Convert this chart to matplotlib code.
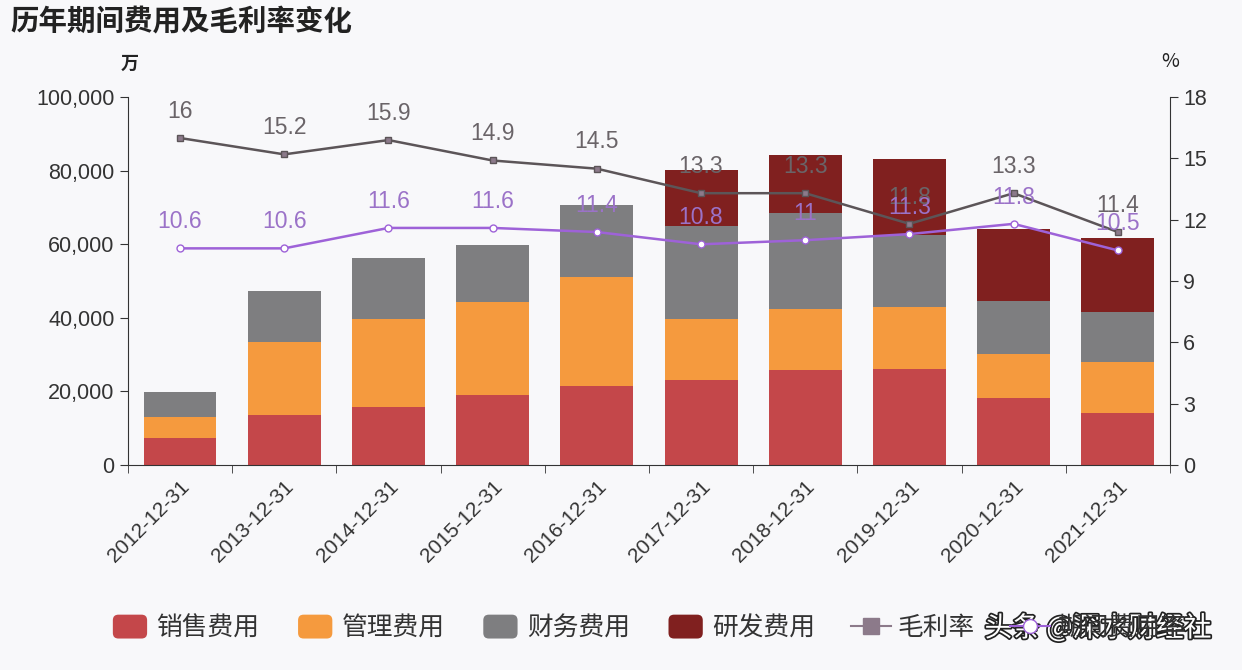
import matplotlib
matplotlib.use("Agg")
import matplotlib.pyplot as plt
import matplotlib.patheffects as pe
from matplotlib.patches import Patch, FancyBboxPatch
from matplotlib.lines import Line2D
from matplotlib.legend_handler import HandlerPatch
import numpy as np

plt.rcParams['font.family'] = ['Noto Sans CJK SC', 'DejaVu Sans']

categories = ["2012-12-31", "2013-12-31", "2014-12-31", "2015-12-31", "2016-12-31",
              "2017-12-31", "2018-12-31", "2019-12-31", "2020-12-31", "2021-12-31"]
sales = [7400, 13700, 15800, 19100, 21600, 23200, 25700, 26200, 18300, 14200]
admin = [5700, 19600, 23800, 25200, 29500, 16400, 16600, 16700, 12000, 13900]
finance = [6800, 14000, 16700, 15500, 19700, 25400, 26300, 19700, 14200, 13400]
rnd = [0, 0, 0, 0, 0, 15100, 15600, 20700, 19700, 20200]
gross_margin = [16, 15.2, 15.9, 14.9, 14.5, 13.3, 13.3, 11.8, 13.3, 11.4]
expense_rate = [10.6, 10.6, 11.6, 11.6, 11.4, 10.8, 11, 11.3, 11.8, 10.5]
series_names = ["销售费用", "管理费用", "财务费用", "研发费用", "毛利率", "期间费用率"]

c_sales = "#C4474A"
c_admin = "#F59A3E"
c_fin = "#7E7E80"
c_rnd = "#80201F"
c_gm = "#5C5558"
c_er = "#9E62D8"
bg = "#F8F8FA"


class RoundBoxHandler(HandlerPatch):
    def create_artists(self, legend, orig_handle, xdescent, ydescent, width, height, fontsize, trans):
        h = height * 1.25
        p = FancyBboxPatch((-xdescent + 2, -ydescent - (h - height) / 2 + 1), width - 4, h - 2,
                           boxstyle="round,pad=0,rounding_size=4",
                           facecolor=orig_handle.get_facecolor(), edgecolor="none",
                           transform=trans)
        return [p]


fig = plt.figure(figsize=(12.42, 6.7), dpi=100, facecolor=bg)
ax = fig.add_axes([0.103, 0.306, 0.839, 0.549], facecolor=bg)
x = np.arange(len(categories))
w = 0.7
b1 = np.array(sales)
b2 = b1 + np.array(admin)
b3 = b2 + np.array(finance)
ax.bar(x, sales, w, color=c_sales, zorder=2)
ax.bar(x, admin, w, bottom=b1, color=c_admin, zorder=2)
ax.bar(x, finance, w, bottom=b2, color=c_fin, zorder=2)
ax.bar(x, rnd, w, bottom=b3, color=c_rnd, zorder=2)

ax.set_xlim(-0.5, len(categories) - 0.5)
ax.set_ylim(0, 100000)
ax.set_yticks(np.arange(0, 100001, 20000))
ax.set_yticklabels([f"{v:,}" for v in range(0, 100001, 20000)], fontsize=15.5, color="#333333",
                   family=['Liberation Sans'])
ax.set_xticks(x)
ax.set_xticklabels(categories, rotation=45, ha="right", rotation_mode="anchor", fontsize=15,
                   color="#333333", family=['Liberation Sans'])
ax.set_xticks(np.arange(-0.5, len(categories), 1), minor=True)
ax.tick_params(axis="x", which="major", length=0, pad=9)
ax.tick_params(axis="x", which="minor", length=6, color="#333333")
ax.tick_params(axis="y", length=6, color="#333333")
for s in ["top", "right"]:
    ax.spines[s].set_visible(False)
for s in ["left", "bottom"]:
    ax.spines[s].set_color("#333333")

ax2 = ax.twinx()
ax2.set_ylim(0, 18)
ax2.set_yticks(np.arange(0, 19, 3))
ax2.set_yticklabels([str(v) for v in range(0, 19, 3)], fontsize=15.5, color="#333333",
                    family=['Liberation Sans'])
ax2.tick_params(axis="y", length=6, color="#333333")
for s in ["top", "left", "bottom"]:
    ax2.spines[s].set_visible(False)
ax2.spines["right"].set_color("#333333")

ax2.plot(x, gross_margin, color=c_gm, lw=1.8, marker="s", ms=4, mfc="#8C7A8A", mec=c_gm, zorder=3)
ax2.plot(x, expense_rate, color=c_er, lw=1.8, marker="o", ms=5, mfc="white", mec=c_er, zorder=3)
for xi, v in zip(x, gross_margin):
    ax2.annotate(f"{v:g}", (xi, v), xytext=(0, 11), textcoords="offset points", ha="center",
                 va="bottom", fontsize=16.5, color="#6A6468", family=['Liberation Sans'], zorder=4)
for xi, v in zip(x, expense_rate):
    ax2.annotate(f"{v:g}", (xi, v), xytext=(0, 11), textcoords="offset points", ha="center",
                 va="bottom", fontsize=16.5, color="#9B72C8", family=['Liberation Sans'], zorder=4)

fig.text(0.008, 0.966, "历年期间费用及毛利率变化", fontsize=20.5, fontweight="bold", color="#222222",
         va="center")
fig.text(0.104, 0.905, "万", fontsize=13, fontweight="bold", color="#222222", ha="center", va="center")
fig.text(0.942, 0.908, "%", fontsize=14, color="#222222", ha="center", va="center")

handles = [Patch(facecolor=c_sales, edgecolor="none"),
           Patch(facecolor=c_admin, edgecolor="none"),
           Patch(facecolor=c_fin, edgecolor="none"),
           Patch(facecolor=c_rnd, edgecolor="none"),
           Line2D([0], [0], color="#8C7A8A", lw=1.5, marker="s", ms=11, mfc="#8C7A8A", mec="#8C7A8A"),
           Line2D([0], [0], color=c_er, lw=1.5, marker="o", ms=10, mfc="white", mec=c_er)]
hmap = {h: RoundBoxHandler() for h in handles[:4]}
leg = fig.legend(handles, series_names, loc="center left", bbox_to_anchor=(0.07, 0.062), ncol=6,
                 frameon=False, fontsize=18.5, handlelength=1.55, handleheight=0.9,
                 columnspacing=1.4, handletextpad=0.25, handler_map=hmap)
for t in leg.get_texts():
    t.set_color("#333333")

wm = fig.text(0.884, 0.062, "头条 @深水财经社", fontsize=20, color="white", ha="center", va="center")
wm.set_path_effects([pe.withStroke(linewidth=2.5, foreground="#222222")])

fig.savefig("out.png", dpi=100, facecolor=bg)
